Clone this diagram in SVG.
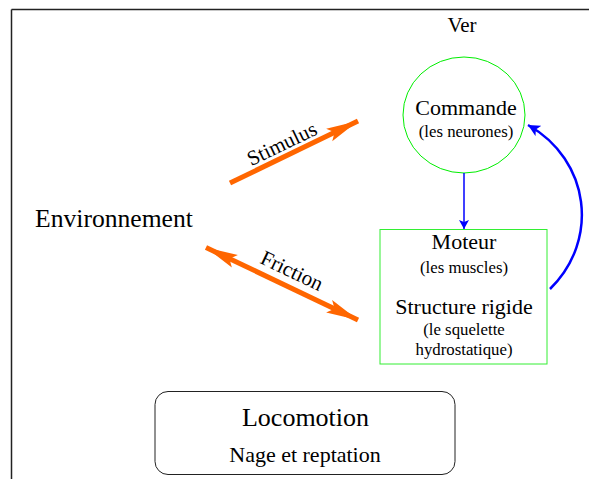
<svg xmlns="http://www.w3.org/2000/svg" width="589" height="479" viewBox="0 0 589 479" font-family="'Liberation Serif', 'DejaVu Serif', serif">
<style>
text{fill:#000;text-anchor:middle}
.big{font-size:22px}
.small{font-size:16.8px}
.orange{stroke:#ff6600;stroke-width:5;fill:none}
.blue{stroke:#0000ff;fill:none}
</style>
<defs>
<marker id="oa" markerUnits="userSpaceOnUse" markerWidth="34" markerHeight="16" refX="32" refY="8" orient="auto-start-reverse" viewBox="0 0 34 16">
<path d="M0,1 L32,8 L0,15 L6,8 Z" fill="#ff6600"/>
</marker>
<marker id="ba" markerUnits="userSpaceOnUse" markerWidth="14" markerHeight="12" refX="12" refY="6" orient="auto" viewBox="0 0 14 12">
<path d="M0,0 L12,6 L0,12 L3,6 Z" fill="#0000ff"/>
</marker>
<marker id="bs" markerUnits="userSpaceOnUse" markerWidth="10" markerHeight="10" refX="9" refY="5" orient="auto" viewBox="0 0 10 10">
<path d="M0,0 L9,5 L0,10 L2,5 Z" fill="#0000ff"/>
</marker>
</defs>
<g id="frame" stroke="#222" stroke-width="1.5" fill="none">
<line x1="11.5" y1="9.5" x2="589" y2="9.5"/>
<line x1="11.5" y1="9.5" x2="11.5" y2="479"/>
</g>
<g id="ver"><text x="462" y="32" font-size="21">Ver</text></g>
<g id="environnement"><text x="114" y="227" font-size="25.6">Environnement</text></g>
<g id="commande">
<ellipse cx="464" cy="115" rx="61" ry="58" fill="#fff" stroke="#00ee00" stroke-width="1"/>
<text class="big" x="466" y="115">Commande</text>
<text class="small" x="466" y="137">(les neurones)</text>
</g>
<g id="moteur">
<rect x="380" y="229.5" width="167" height="134.5" fill="#fff" stroke="#33ee33" stroke-width="1"/>
<text class="big" x="464" y="249">Moteur</text>
<text class="small" x="464" y="273">(les muscles)</text>
<text class="big" x="464" y="314">Structure rigide</text>
<text class="small" x="464" y="335">(le squelette</text>
<text class="small" x="464" y="355">hydrostatique)</text>
</g>
<g id="locomotion">
<rect x="155" y="391.5" width="300" height="83" rx="13" fill="#fff" stroke="#222" stroke-width="1"/>
<text x="305.5" y="426" font-size="26">Locomotion</text>
<text class="big" x="305" y="462">Nage et reptation</text>
</g>
<g id="connectors">
<line class="orange" x1="230" y1="183" x2="358" y2="121" marker-end="url(#oa)"/>
<text transform="translate(285,150) rotate(-25.7)" font-size="21">Stimulus</text>
<line class="orange" x1="206" y1="247.5" x2="358" y2="320" marker-start="url(#oa)" marker-end="url(#oa)"/>
<text transform="translate(289,277) rotate(25.5)" font-size="21">Friction</text>
<line class="blue" stroke-width="1.5" x1="464" y1="173" x2="464" y2="229" marker-end="url(#bs)"/>
<path class="blue" stroke-width="2.5" d="M550,289 C600,240 590,160 528,125" marker-end="url(#ba)"/>
</g>
</svg>
